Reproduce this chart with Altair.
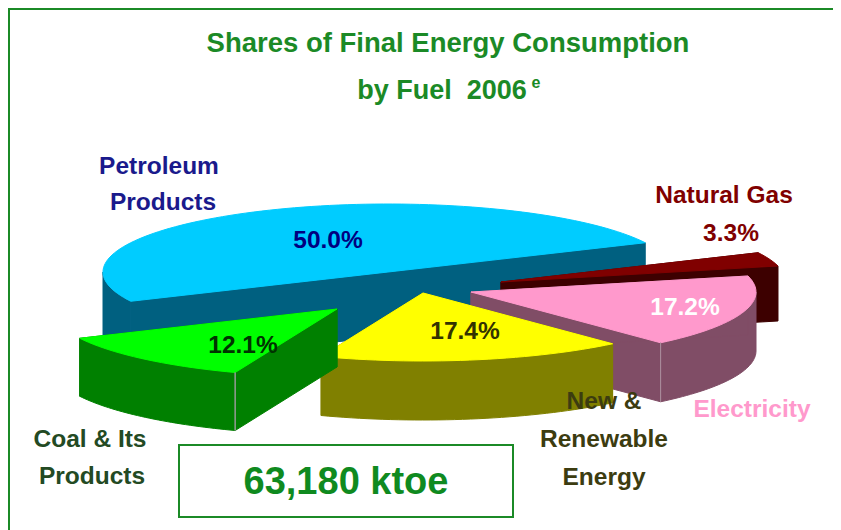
import numpy as np
import pandas as pd
import altair as alt

# ---- data ----
FUELS = ["Petroleum Products", "Coal & Its Products", "New & Renewable Energy", "Electricity", "Natural Gas"]
SHARES = [50.0, 12.1, 17.4, 17.2, 3.3]
SHARE_LABELS = ["50.0%", "12.1%", "17.4%", "17.2%", "3.3%"]
TITLE_LINES = ["Shares of Final Energy Consumption", "by Fuel\u00a0\u00a02006", "e"]
NAME_LINES = ["Petroleum", "Products", "Natural Gas", "Coal & Its", "Products", "New &", "Renewable", "Energy", "Electricity"]
TOTAL = "63,180 ktoe"

# ---- layout / style ----
START = 25.5
RX, RY = 285, 68
CENTERS = [(388, 272), (337, 309), (423, 293), (471, 292), (501, 282)]
DEPTHS = [64, 58, 59, 59, 55]
TOPS = ["#00ccff", "#00ff00", "#ffff00", "#ff99cc", "#800000"]
SIDES = ["#006080", "#008000", "#808000", "#804d66", "#3d0000"]
DRAW = [0, 4, 3, 2, 1]
GREEN = "#1b8a26"

W, H = 825, 522
xs = alt.Scale(domain=[8, 833], range=[0, W], nice=False, zero=False)
ys = alt.Scale(domain=[8, 530], range=[0, H], nice=False, zero=False)
X = alt.X("x:Q", scale=xs, axis=None)
Y = alt.Y("y:Q", scale=ys, axis=None)

# ---- wedge outlines derived from the shares ----
bounds = START + np.concatenate([[0], np.cumsum(SHARES)]) * 3.6
rows = []
def add(pts, colour, pid):
    for px, py in pts:
        rows.append(dict(x=float(px), y=float(py), c=colour, pid=pid, i=len(rows)))

def ellipse(cx, cy, a0, a1, n):
    t = np.radians(np.linspace(a0, a1, n))
    return list(zip(cx + RX * np.cos(t), cy - RY * np.sin(t)))

for k in DRAW:
    cx, cy = CENTERS[k]
    d = DEPTHS[k]
    a0, a1 = bounds[k], bounds[k + 1]
    arc = ellipse(cx, cy, a0, a1, max(8, int(SHARES[k] * 2)))
    # outer wall: only the front half of the rim is ever visible
    f0, f1 = max(a0, 180), min(a1, 360)
    if f1 > f0:
        front = ellipse(cx, cy, f0, f1, 40)
        add(front + [(a, b + d) for a, b in front[::-1]], SIDES[k], f"{k}o")
    for j, e in enumerate((arc[0], arc[-1])):
        add([(cx, cy), e, (e[0], e[1] + d), (cx, cy + d)], SIDES[k], f"{k}r{j}")
    add([(cx, cy)] + arc, TOPS[k], f"{k}t")
    if k == 1:
        e = arc[-1]
        add([e, (e[0], e[1] + d)], "#9a9a9a", f"{k}s")
    if k == 3:
        e = arc[0]
        add([e, (e[0], e[1] + d)], "#a98a9a", f"{k}s")

poly = pd.DataFrame(rows)
wedges = alt.Chart(poly).mark_line(interpolate="linear-closed", strokeWidth=1).encode(
    x=X, y=Y, order=alt.Order("i:Q"), detail="pid:N",
    fill=alt.Fill("c:N", scale=None), stroke=alt.Stroke("c:N", scale=None),
)

frame = pd.DataFrame(dict(x=[9, 9, 833], y=[530, 9, 9], i=[0, 1, 2]))
border = alt.Chart(frame).mark_line(color=GREEN, strokeWidth=2).encode(
    x=X, y=Y, order=alt.Order("i:Q")
)

box_df = pd.DataFrame(dict(x=[179], x2=[513], y=[445], y2=[517]))
box = alt.Chart(box_df).mark_rect(fill="white", stroke=GREEN, strokeWidth=2).encode(
    x=X, x2="x2:Q", y=Y, y2="y2:Q"
)

labels = pd.DataFrame(
    [
        (TITLE_LINES[0], 448, 44, 27.5, GREEN),
        (TITLE_LINES[1], 442, 91, 27, GREEN),
        (TITLE_LINES[2], 536, 83, 16, GREEN),
        (NAME_LINES[0], 159, 167, 24.5, "#1a1a8c"),
        (NAME_LINES[1], 163, 203, 24.5, "#1a1a8c"),
        (NAME_LINES[2], 724, 196, 24.5, "#800000"),
        (NAME_LINES[3], 90, 440, 24.5, "#234a23"),
        (NAME_LINES[4], 92, 477, 24.5, "#234a23"),
        (NAME_LINES[5], 604, 402, 24.5, "#3c3c10"),
        (NAME_LINES[6], 604, 440, 24.5, "#3c3c10"),
        (NAME_LINES[7], 604, 478, 24.5, "#3c3c10"),
        (NAME_LINES[8], 752, 410, 24.5, "#ff99cc"),
        (SHARE_LABELS[0], 328, 241, 24.5, "#000080"),
        (SHARE_LABELS[1], 243, 346, 24.5, "#003300"),
        (SHARE_LABELS[2], 465, 332, 24.5, "#333300"),
        (SHARE_LABELS[3], 685, 308, 24.5, "#ffffff"),
        (SHARE_LABELS[4], 731, 234, 24.5, "#800000"),
        (TOTAL, 346, 483, 38, "#0f8a1f"),
    ],
    columns=["t", "x", "y", "s", "c"],
)
texts = alt.Chart(labels).mark_text(
    font="Liberation Sans", fontWeight="bold", align="center", baseline="middle"
).encode(
    x=X, y=Y, text="t:N",
    size=alt.Size("s:Q", scale=None),
    color=alt.Color("c:N", scale=None),
)

chart = alt.layer(border, wedges, box, texts).properties(
    width=W, height=H, padding=0, background="white",
    autosize=alt.AutoSizeParams(type="none"),
).configure_view(stroke=None)

chart.save("out.html", embed_options={"renderer": "svg", "actions": False})
